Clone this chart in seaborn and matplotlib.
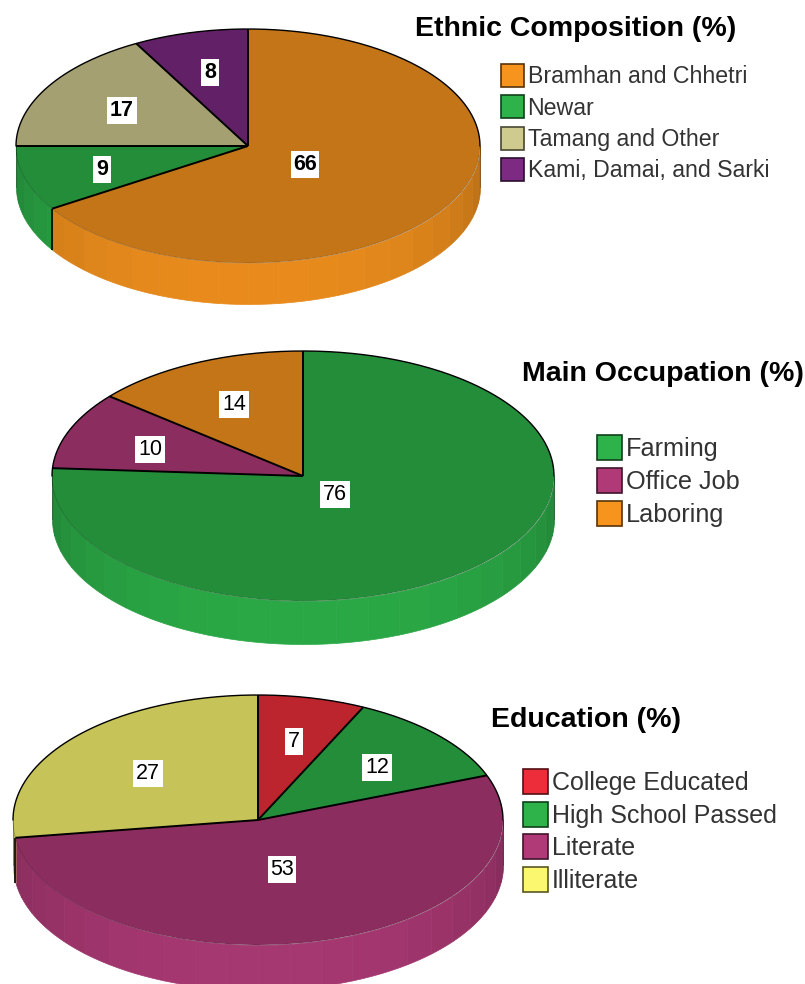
import numpy as np
import matplotlib
matplotlib.use("Agg")
import matplotlib.pyplot as plt
from matplotlib.patches import Patch
import seaborn as sns

ethnic_labels = ["Bramhan and Chhetri", "Newar", "Tamang and Other", "Kami, Damai, and Sarki"]
ethnic_values = [66, 9, 17, 8]
occupation_labels = ["Farming", "Office Job", "Laboring"]
occupation_values = [76, 10, 14]
education_labels = ["College Educated", "High School Passed", "Literate", "Illiterate"]
education_values = [7, 12, 53, 27]

# legend (bright) colours, the pie tops are a darker version
orange = "#F7941E"
green = "#2DB34A"
tan = "#CFCB8F"
purple = "#7C2A82"
magenta = "#B03A78"
red = "#EE2D3A"
yellow = "#FBF76F"

W, H = 805, 984

sns.set_theme(style="white")
plt.rcParams["font.family"] = ["Liberation Sans", "DejaVu Sans"]

fig = plt.figure(figsize=(W / 100, H / 100), dpi=100, facecolor="white")


def darker(color, f):
    return tuple(c * f for c in matplotlib.colors.to_rgb(color))


def draw_pie(values, colors, cx, cy, a, b, depth, label_px, bold):
    pad = 4
    left, right = cx - a - pad, cx + a + pad
    top, bottom = cy - b - pad, cy + b + depth + pad
    ax = fig.add_axes([left / W, 1 - bottom / H, (right - left) / W, (bottom - top) / H])
    ax.patch.set_alpha(0)
    d = depth / b

    tops = [darker(c, 0.79) for c in colors]
    ax.pie(values, colors=tops, startangle=90, counterclock=False, radius=1,
           wedgeprops={"linewidth": 0, "edgecolor": "none"})
    ax.set_aspect("auto")
    ax.set_xlim(-(a + pad) / a, (a + pad) / a)
    ax.set_ylim(-(b + depth + pad) / b, (b + pad) / b)

    # angles clockwise from the top of the pie
    edges = np.cumsum([0] + list(values)) / sum(values) * 360

    # side wall, cut in bands like the original shading
    bands = np.arange(90, 271, 7.5)
    for i, c in enumerate(colors):
        start, stop = max(edges[i], 90), min(edges[i + 1], 270)
        if start >= stop:
            continue
        ramp = sns.blend_palette([darker(c, 0.72), darker(c, 0.82), darker(c, 0.94)], 40)
        cuts = [start] + [t for t in bands if start < t < stop] + [stop]
        for t0, t1 in zip(cuts[:-1], cuts[1:]):
            th = np.radians(np.linspace(t0, t1, 8))
            shade = -np.cos(np.radians((t0 + t1) / 2))
            col = ramp[int(min(shade ** 0.7, 0.999) * 40)]
            ax.fill_between(np.sin(th), np.cos(th), np.cos(th) - d, color=col,
                            linewidth=0.5, zorder=0.5)

    # front rim of the top face, faint
    th = np.radians(np.linspace(90, 270, 200))
    ax.plot(np.sin(th), np.cos(th), color="black", alpha=0.18, lw=0.7, zorder=3)
    # back rim, black
    th = np.radians(np.linspace(-90, 90, 200))
    ax.plot(np.sin(th), np.cos(th), color="black", lw=1.0, zorder=3)
    for sx in (-1, 1):
        ax.plot([sx, sx], [0, -d], color="black", alpha=0.3, lw=0.7, zorder=3)

    # slice borders
    for e in edges[:-1]:
        r = np.radians(e)
        ax.plot([0, np.sin(r)], [0, np.cos(r)], color="black", lw=1.4, zorder=4,
                solid_capstyle="butt")
        if 90 < e < 270:
            ax.plot([np.sin(r)] * 2, [np.cos(r), np.cos(r) - d], color="black", lw=1.2,
                    zorder=4, solid_capstyle="butt")

    for v, (px, py) in zip(values, label_px):
        ax.text((px - cx) / a, (cy - py) / b, str(v), ha="center", va="center",
                fontsize=15.5, color="black", fontweight="bold" if bold else "normal",
                zorder=5, bbox={"facecolor": "white", "edgecolor": "none",
                                "pad": 1.8})


def add_legend(labels, colors, x, y, fs, spacing, swatch):
    # swatch size in points, independent of the text size
    hh = (swatch / fs - 0.245) / 0.65
    handles = [Patch(facecolor=c, edgecolor=darker(c, 0.35), linewidth=1.2) for c in colors]
    fig.legend(handles=handles, labels=labels, loc="upper left",
               bbox_to_anchor=(x / W, 1 - y / H), frameon=False, fontsize=fs,
               labelcolor="#333333", handlelength=swatch / fs, handleheight=hh,
               labelspacing=spacing, handletextpad=0.15, borderpad=0, borderaxespad=0)


ethnic_colors = sns.color_palette([orange, green, tan, purple])
occupation_colors = sns.color_palette([green, magenta, orange])
education_colors = sns.color_palette([red, green, magenta, yellow])

draw_pie(ethnic_values, ethnic_colors, 248, 146, 232, 117, 41,
         [(305, 164.5), (102, 169.5), (122, 110.5), (210, 72.5)], True)
draw_pie(occupation_values, occupation_colors, 303, 476, 251, 125, 43,
         [(335, 494.5), (150, 449.5), (234, 404.5)], False)
draw_pie(education_values, education_colors, 258, 820, 245, 125, 45,
         [(294, 741.5), (377, 767.5), (282, 869.5), (148, 773.5)], False)

add_legend(ethnic_labels, ethnic_colors, 501, 64, 16.7, 0.3, 16.6)
add_legend(occupation_labels, occupation_colors, 597, 435, 18.2, 0.27, 18.0)
add_legend(education_labels, education_colors, 523, 769, 18.0, 0.27, 18.0)

fig.text(415 / W, 1 - 29 / H, "Ethnic Composition (%)", fontsize=20.5, fontweight="bold",
         color="black", ha="left", va="center")
fig.text(522 / W, 1 - 374 / H, "Main Occupation (%)", fontsize=20.5, fontweight="bold",
         color="black", ha="left", va="center")
fig.text(491 / W, 1 - 720 / H, "Education (%)", fontsize=20.5, fontweight="bold",
         color="black", ha="left", va="center")

fig.savefig("out.png", dpi=100)
